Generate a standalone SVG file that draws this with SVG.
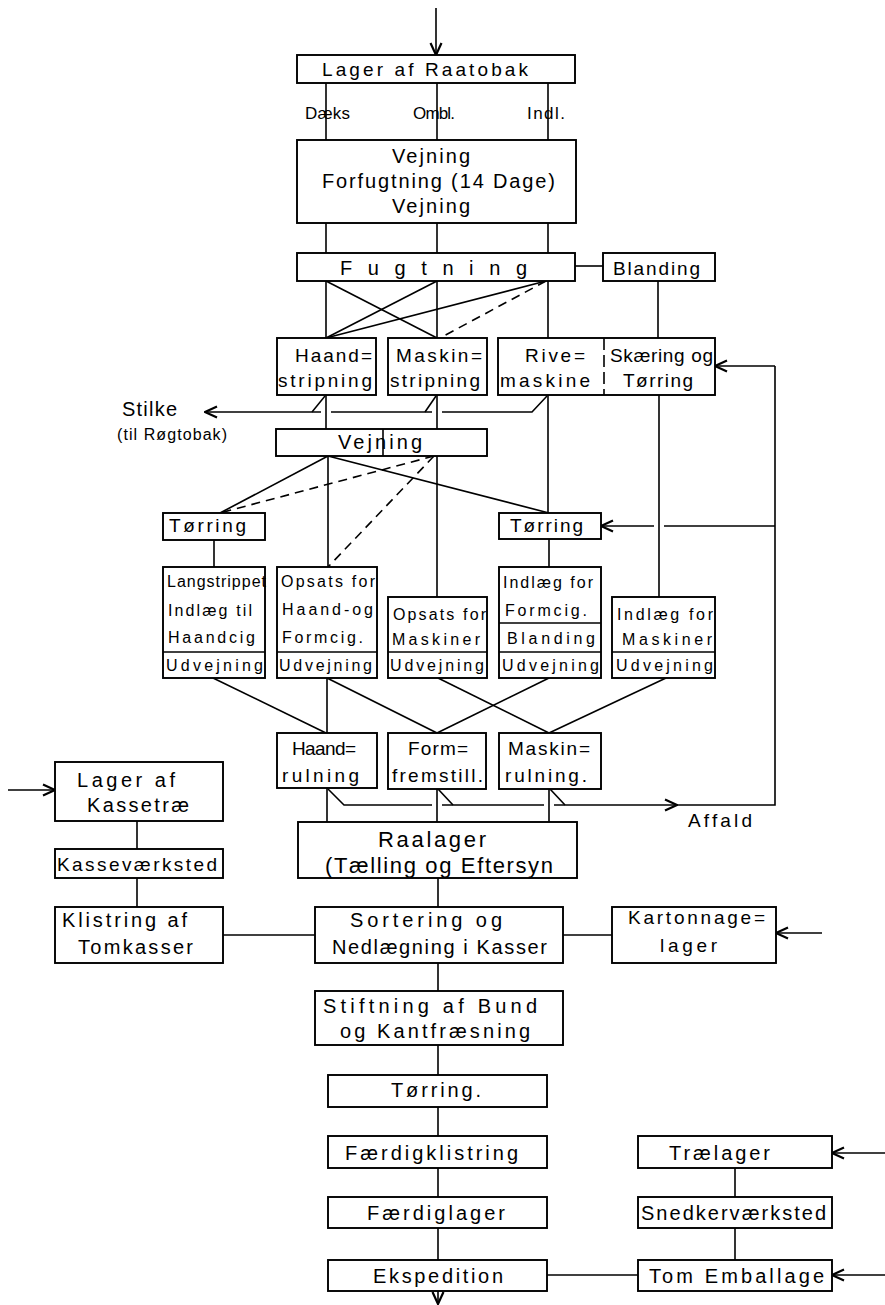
<svg xmlns="http://www.w3.org/2000/svg" width="885" height="1305" viewBox="0 0 885 1305">
<defs>
<style>
.box{fill:#fff;stroke:#000;stroke-width:1.9}
.ln{stroke:#000;stroke-width:1.6;fill:none}
.dash{stroke-dasharray:9 6}
.t{font-family:"Liberation Sans",Arial,sans-serif;font-size:19px;fill:#000}
.s{font-size:16px}
.m{font-size:20px}
.l{font-size:22px}
</style>
<marker id="ah" viewBox="0 0 14 14" refX="13" refY="7" markerWidth="14" markerHeight="14" markerUnits="userSpaceOnUse" orient="auto">
<path d="M1,1.5 L13,7 L1,12.5" fill="none" stroke="#000" stroke-width="2.2"/>
</marker>
</defs>
<rect width="885" height="1305" fill="#fff"/>

<g id="connectors">
<line class="ln" x1="436" y1="8" x2="436" y2="55" marker-end="url(#ah)"/>
<line class="ln" x1="326" y1="83" x2="326" y2="140"/>
<line class="ln" x1="437" y1="83" x2="437" y2="140"/>
<line class="ln" x1="548" y1="83" x2="548" y2="140"/>
<text class="t" style="font-size:17px" x="305" y="119" textLength="45">Dæks</text>
<text class="t" style="font-size:17px" x="413" y="119" textLength="42">Ombl.</text>
<text class="t" style="font-size:17px" x="527" y="119" textLength="38">Indl.</text>
<line class="ln" x1="326" y1="223" x2="326" y2="253"/>
<line class="ln" x1="437" y1="223" x2="437" y2="253"/>
<line class="ln" x1="548" y1="223" x2="548" y2="253"/>
<line class="ln" x1="575" y1="266" x2="603" y2="266"/>
<line class="ln" x1="326" y1="281" x2="326" y2="338"/>
<line class="ln" x1="437" y1="281" x2="437" y2="338"/>
<line class="ln" x1="548" y1="281" x2="548" y2="338"/>
<line class="ln" x1="326" y1="281" x2="437" y2="338"/>
<line class="ln" x1="437" y1="281" x2="326" y2="338"/>
<line class="ln" x1="546" y1="281" x2="326" y2="338"/>
<line class="ln dash" x1="546" y1="281" x2="440" y2="338"/>
<line class="ln" x1="658" y1="281" x2="658" y2="338"/>
<line class="ln" x1="321" y1="412" x2="205" y2="412" marker-end="url(#ah)"/>
<line class="ln" x1="312" y1="412" x2="325" y2="396"/>
<line class="ln" x1="331" y1="412" x2="432" y2="412"/>
<line class="ln" x1="425" y1="412" x2="436" y2="396"/>
<polyline class="ln" points="442,412 532,412 547,396"/>
<line class="ln" x1="326" y1="395" x2="326" y2="429"/>
<line class="ln" x1="437" y1="395" x2="437" y2="429"/>
<line class="ln" x1="548" y1="395" x2="548" y2="513"/>
<line class="ln" x1="659" y1="395" x2="659" y2="597"/>
<line class="ln" x1="328" y1="456" x2="220" y2="513"/>
<line class="ln dash" x1="434" y1="456" x2="220" y2="513"/>
<line class="ln" x1="328" y1="456" x2="328" y2="567"/>
<line class="ln dash" x1="434" y1="456" x2="328" y2="567"/>
<line class="ln" x1="328" y1="456" x2="549" y2="513"/>
<line class="ln" x1="437" y1="456" x2="437" y2="597"/>
<line class="ln" x1="214" y1="540" x2="214" y2="567"/>
<line class="ln" x1="549" y1="539" x2="549" y2="567"/>
<line class="ln" x1="213" y1="678" x2="326" y2="733"/>
<line class="ln" x1="327" y1="678" x2="327" y2="733"/>
<line class="ln" x1="327" y1="678" x2="437" y2="733"/>
<line class="ln" x1="438" y1="678" x2="549" y2="733"/>
<line class="ln" x1="549" y1="678" x2="437" y2="733"/>
<line class="ln" x1="666" y1="678" x2="549" y2="733"/>
<line class="ln" x1="327" y1="788" x2="327" y2="822"/>
<line class="ln" x1="437" y1="789" x2="437" y2="822"/>
<line class="ln" x1="549" y1="789" x2="549" y2="822"/>
<polyline class="ln" points="328,789 344,805 432,805"/>
<line class="ln" x1="438" y1="789" x2="453" y2="805"/>
<line class="ln" x1="442" y1="805" x2="544" y2="805"/>
<line class="ln" x1="550" y1="789" x2="565" y2="805"/>
<line class="ln" x1="554" y1="805" x2="677" y2="805" marker-end="url(#ah)"/>
<polyline class="ln" points="676,805 775,805 775,366"/>
<line class="ln" x1="775" y1="366" x2="715" y2="366" marker-end="url(#ah)"/>
<line class="ln" x1="775" y1="526" x2="664" y2="526"/>
<line class="ln" x1="654" y1="526" x2="601" y2="526" marker-end="url(#ah)"/>
<text class="t" x="688" y="827" textLength="64">Affald</text>
<line class="ln" x1="8" y1="790" x2="55" y2="790" marker-end="url(#ah)"/>
<line class="ln" x1="137" y1="821" x2="137" y2="849"/>
<line class="ln" x1="137" y1="878" x2="137" y2="907"/>
<line class="ln" x1="223" y1="935" x2="315" y2="935"/>
<line class="ln" x1="563" y1="935" x2="612" y2="935"/>
<line class="ln" x1="822" y1="933" x2="776" y2="933" marker-end="url(#ah)"/>
<line class="ln" x1="438" y1="878" x2="438" y2="907"/>
<line class="ln" x1="438" y1="963" x2="438" y2="991"/>
<line class="ln" x1="438" y1="1045" x2="438" y2="1075"/>
<line class="ln" x1="438" y1="1107" x2="438" y2="1136"/>
<line class="ln" x1="438" y1="1168" x2="438" y2="1197"/>
<line class="ln" x1="438" y1="1228" x2="438" y2="1260"/>
<line class="ln" x1="438" y1="1291" x2="438" y2="1304" marker-end="url(#ah)"/>
<line class="ln" x1="547" y1="1275" x2="638" y2="1275"/>
<line class="ln" x1="735" y1="1168" x2="735" y2="1197"/>
<line class="ln" x1="735" y1="1228" x2="735" y2="1260"/>
<line class="ln" x1="885" y1="1153" x2="832" y2="1153" marker-end="url(#ah)"/>
<line class="ln" x1="885" y1="1275" x2="832" y2="1275" marker-end="url(#ah)"/>
</g>

<g id="raatobak"><rect class="box" x="297" y="55" width="278" height="28"/>
<text class="t" x="322" y="76" textLength="206">Lager af Raatobak</text></g>

<g id="forfugtning"><rect class="box" x="297" y="140" width="279" height="83"/>
<text class="t m" x="392" y="163" textLength="78">Vejning</text>
<text class="t m" x="322" y="188" textLength="233">Forfugtning (14 Dage)</text>
<text class="t m" x="392" y="213" textLength="78">Vejning</text></g>

<g id="fugtning"><rect class="box" x="297" y="253" width="278" height="28"/>
<text class="t m" x="340" y="275" textLength="187">Fugtning</text></g>

<g id="blanding"><rect class="box" x="603" y="253" width="112" height="28"/>
<text class="t" x="613" y="275" textLength="87">Blanding</text></g>

<g id="haandstripning"><rect class="box" x="277" y="338" width="99" height="57"/>
<text class="t" x="295" y="362" textLength="77">Haand=</text>
<text class="t" x="278" y="387" textLength="94">stripning</text></g>

<g id="maskinstripning"><rect class="box" x="388" y="338" width="99" height="57"/>
<text class="t" x="396" y="362" textLength="86">Maskin=</text>
<text class="t" x="390" y="387" textLength="90">stripning</text></g>

<g id="rive-skaering"><rect class="box" x="498" y="338" width="217" height="57"/>
<line class="ln dash" x1="604" y1="338" x2="604" y2="395" style="stroke-dasharray:12 5"/>
<text class="t" x="525" y="362" textLength="60">Rive=</text>
<text class="t" x="500" y="387" textLength="90">maskine</text>
<text class="t" x="610" y="362" textLength="103">Skæring og</text>
<text class="t" x="623" y="387" textLength="70">Tørring</text></g>

<g id="stilke"><text class="t m" x="122" y="416" textLength="55">Stilke</text>
<text class="t" style="font-size:16px" x="117" y="440" textLength="110">(til Røgtobak)</text></g>

<g id="vejning2"><rect class="box" x="276" y="429" width="211" height="27"/>
<line class="ln" x1="383" y1="429" x2="383" y2="456"/>
<text class="t m" x="338" y="449" textLength="84">Vejning</text></g>

<g id="torring-l"><rect class="box" x="163" y="513" width="102" height="27"/>
<text class="t" x="169" y="532" textLength="77">Tørring</text></g>

<g id="torring-r"><rect class="box" x="499" y="513" width="102" height="26"/>
<text class="t" x="510" y="532" textLength="73">Tørring</text></g>

<g id="langstrippet"><rect class="box" x="163" y="567" width="102" height="111"/>
<line class="ln" x1="163" y1="652" x2="265" y2="652"/>
<text class="t s" x="167" y="587" textLength="99">Langstrippet</text>
<text class="t s" x="168" y="616" textLength="84">Indlæg til</text>
<text class="t s" x="168" y="643" textLength="87">Haandcig</text>
<text class="t s" x="166" y="671" textLength="97">Udvejning</text></g>

<g id="opsats-haand"><rect class="box" x="277" y="567" width="100" height="111"/>
<line class="ln" x1="277" y1="652" x2="377" y2="652"/>
<text class="t s" x="281" y="587" textLength="94">Opsats for</text>
<text class="t s" x="282" y="615" textLength="91">Haand-og</text>
<text class="t s" x="282" y="643" textLength="81">Formcig.</text>
<text class="t s" x="279" y="671" textLength="93">Udvejning</text></g>

<g id="opsats-maskiner"><rect class="box" x="388" y="597" width="99" height="81"/>
<line class="ln" x1="388" y1="652" x2="487" y2="652"/>
<text class="t s" x="393" y="620" textLength="93">Opsats for</text>
<text class="t s" x="392" y="645" textLength="88">Maskiner</text>
<text class="t s" x="390" y="671" textLength="94">Udvejning</text></g>

<g id="indlaeg-formcig"><rect class="box" x="499" y="567" width="102" height="111"/>
<line class="ln" x1="499" y1="623" x2="601" y2="623"/>
<line class="ln" x1="499" y1="652" x2="601" y2="652"/>
<text class="t s" x="503" y="588" textLength="90">Indlæg for</text>
<text class="t s" x="505" y="616" textLength="82">Formcig.</text>
<text class="t s" x="507" y="644" textLength="88">Blanding</text>
<text class="t s" x="502" y="671" textLength="97">Udvejning</text></g>

<g id="indlaeg-maskiner"><rect class="box" x="612" y="597" width="103" height="81"/>
<line class="ln" x1="612" y1="652" x2="715" y2="652"/>
<text class="t s" x="617" y="620" textLength="96">Indlæg for</text>
<text class="t s" x="622" y="645" textLength="90">Maskiner</text>
<text class="t s" x="616" y="671" textLength="97">Udvejning</text></g>

<g id="haandrulning"><rect class="box" x="277" y="733" width="100" height="55"/>
<text class="t" x="292" y="755" textLength="64">Haand=</text>
<text class="t" x="282" y="782" textLength="77">rulning</text></g>

<g id="formfremstill"><rect class="box" x="388" y="733" width="98" height="56"/>
<text class="t" x="408" y="755" textLength="60">Form=</text>
<text class="t" x="392" y="782" textLength="91">fremstill.</text></g>

<g id="maskinrulning"><rect class="box" x="499" y="733" width="102" height="56"/>
<text class="t" x="508" y="755" textLength="82">Maskin=</text>
<text class="t" x="505" y="782" textLength="82">rulning.</text></g>

<g id="raalager"><rect class="box" x="298" y="822" width="279" height="56"/>
<text class="t l" x="378" y="847" textLength="108">Raalager</text>
<text class="t l" x="325" y="873" textLength="228">(Tælling og Eftersyn</text></g>

<g id="kassetrae"><rect class="box" x="55" y="762" width="168" height="59"/>
<text class="t m" x="77" y="787" textLength="98">Lager af</text>
<text class="t m" x="87" y="812" textLength="102">Kassetræ</text></g>

<g id="kassevaerksted"><rect class="box" x="55" y="849" width="168" height="29"/>
<text class="t" x="57" y="871" textLength="160">Kasseværksted</text></g>

<g id="klistring"><rect class="box" x="55" y="907" width="168" height="56"/>
<text class="t m" x="62" y="927" textLength="125">Klistring af</text>
<text class="t m" x="78" y="954" textLength="115">Tomkasser</text></g>

<g id="sortering"><rect class="box" x="315" y="907" width="248" height="56"/>
<text class="t m" x="350" y="927" textLength="152">Sortering og</text>
<text class="t m" x="332" y="954" textLength="215">Nedlægning i Kasser</text></g>

<g id="kartonnage"><rect class="box" x="612" y="907" width="164" height="56"/>
<text class="t" x="628" y="924" textLength="137">Kartonnage=</text>
<text class="t" x="660" y="952" textLength="57">lager</text></g>

<g id="stiftning"><rect class="box" x="315" y="991" width="248" height="54"/>
<text class="t m" x="323" y="1013" textLength="214">Stiftning af Bund</text>
<text class="t m" x="340" y="1038" textLength="190">og Kantfræsning</text></g>

<g id="torring-b"><rect class="box" x="328" y="1075" width="219" height="32"/>
<text class="t m" x="391" y="1097" textLength="90">Tørring.</text></g>

<g id="faerdigklistring"><rect class="box" x="328" y="1136" width="219" height="32"/>
<text class="t m" x="345" y="1160" textLength="173">Færdigklistring</text></g>

<g id="faerdiglager"><rect class="box" x="328" y="1197" width="219" height="31"/>
<text class="t m" x="367" y="1220" textLength="138">Færdiglager</text></g>

<g id="ekspedition"><rect class="box" x="328" y="1260" width="219" height="31"/>
<text class="t m" x="373" y="1283" textLength="130">Ekspedition</text></g>

<g id="traelager"><rect class="box" x="638" y="1136" width="194" height="32"/>
<text class="t m" x="669" y="1160" textLength="101">Trælager</text></g>

<g id="snedkervaerksted"><rect class="box" x="638" y="1197" width="194" height="31"/>
<text class="t m" x="641" y="1220" textLength="185">Snedkerværksted</text></g>

<g id="tomemballage"><rect class="box" x="638" y="1260" width="194" height="31"/>
<text class="t m" x="649" y="1283" textLength="175">Tom Emballage</text></g>
</svg>
